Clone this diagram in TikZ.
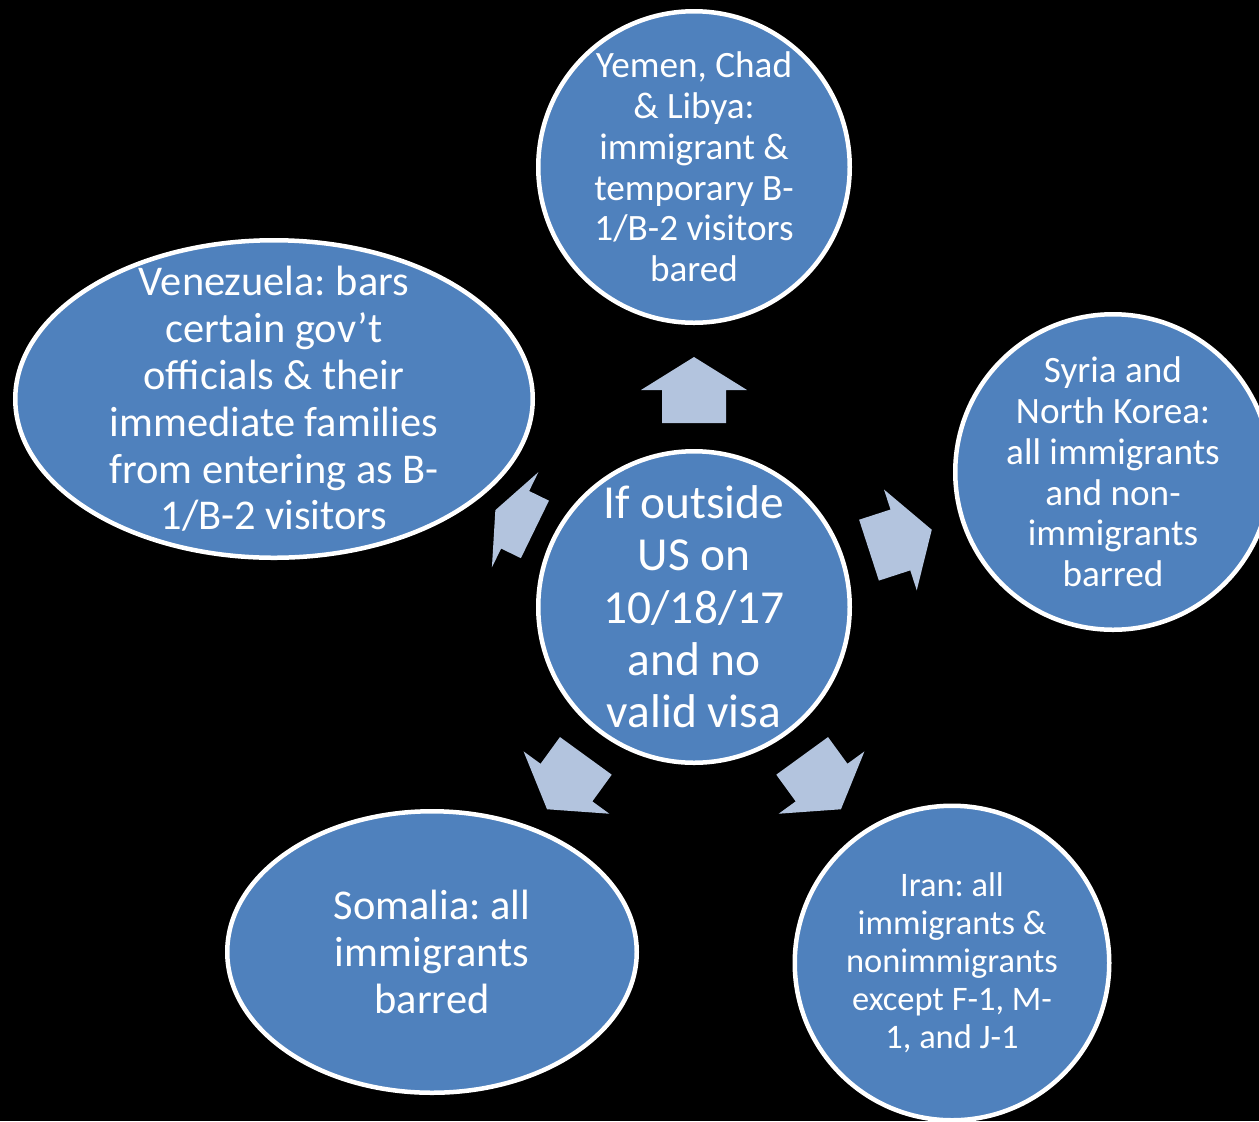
\documentclass[tikz,border=0pt]{standalone}
\usepackage{fontspec}
\setmainfont{Carlito}
\usetikzlibrary{shapes.geometric}
\definecolor{bblue}{RGB}{79,129,189}
\definecolor{arrowc}{RGB}{179,196,222}
\tikzset{
  bub/.style={draw=white, line width=2.25pt, fill=bblue, text=white, inner sep=0pt, outer sep=0pt, align=center},
  circ/.style={bub, circle, minimum size=#1},
  ell/.style={bub, ellipse},
  lbl/.style={text=white, inner sep=0pt, align=center},
  blk/.style={fill=arrowc},
  fbig/.style={font=\fontsize{23.7}{26.15}\selectfont},
  fmid/.style={font=\fontsize{21.2}{23.4}\selectfont},
  fsmall/.style={font=\fontsize{18.6}{20.4}\selectfont},
  ftiny/.style={font=\fontsize{17.2}{19}\selectfont},
}
\newcommand\blkarrow[4]{%
  \fill[blk, shift={(cen.center)}, rotate=#1]
    (#2,-32) -- (#3,-32) -- (#3,-53) -- (#4,0) -- (#3,53) -- (#3,32) -- (#2,32) -- cycle;}
\begin{document}
\frenchspacing
\begin{tikzpicture}[x=0.5pt, y=-0.5pt]
\fill[black] (0,0) rectangle (1259,1121);
\useasboundingbox (0,0) rectangle (1259,1121);
\begin{scope}
\clip (0,0) rectangle (1259,1121);
\node[circ=155.75pt, fbig] (cen) at (694,607) {If outside\\US on\\10/18/17\\and no\\valid visa};
\node[circ=155.75pt, fsmall] (top) at (694,167) {Yemen, Chad\\\& Libya:\\immigrant \&\\temporary B-\\1/B-2 visitors\\bared};
\node[circ=157.75pt, fsmall] (syr) at (1113,472) {Syria and\\North Korea:\\all immigrants\\and non-\\immigrants\\barred};
\node[circ=157.25pt, ftiny] (iran) at (952,963) {Iran: all\\immigrants \&\\nonimmigrants\\except F-1, M-\\1, and J-1};
\node[ell, minimum width=204.75pt, minimum height=140.75pt] (som) at (432,952) {};
\node[lbl, fmid] (somtxt) at (som.center) {Somalia: all\\immigrants\\barred};
\node[ell, minimum width=258.75pt, minimum height=158.75pt] (ven) at (274,399) {};
\node[lbl, fmid] (ventxt) at (ven.center) {Venezuela: bars\\certain gov’t\\officials \& their\\immediate families\\from entering as B-\\1/B-2 visitors};
\end{scope}
\blkarrow{90}{184}{217}{250}
\blkarrow{18}{184}{217}{250}
\blkarrow{-54}{184}{217}{250}
\blkarrow{-126}{184}{217}{250}
\blkarrow{154}{177}{199}{221}
\end{tikzpicture}
\end{document}
